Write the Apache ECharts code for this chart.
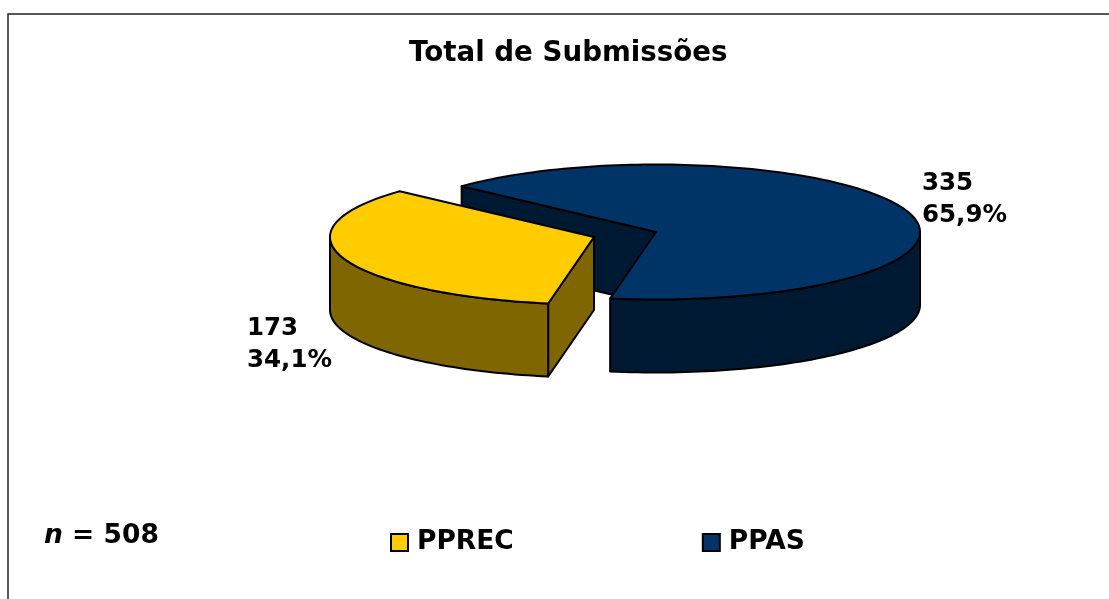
<!DOCTYPE html>
<html>
<head>
<meta charset="utf-8">
<style>html,body{margin:0;padding:0;background:#fff}#c{width:1109px;height:599px}</style>
<script src="https://cdn.jsdelivr.net/npm/echarts@6/dist/echarts.min.js"></script>
</head>
<body>
<div id="c"></div>
<script>
var titleText = 'Total de Submissões';
var categories = ['PPREC', 'PPAS'];
var counts = [173, 335];
var percentLabels = ['34,1%', '65,9%'];
var sampleSize = 508;

var FONT = '"DejaVu Sans", Verdana, sans-serif';
var total = counts[0] + counts[1];
var layout = {
  rx: 264, ry: 67.5, depth: 73, joinAngle: 100,
  PPREC: { cx: 594, cy: 237, top: '#FFCC00', side: '#806600', dir: 1, label: [247, 345] },
  PPAS: { cx: 656, cy: 232, top: '#003366', side: '#001933', dir: -1, label: [922, 200] }
};

function pt(s, deg, dy) {
  var a = deg * Math.PI / 180;
  return [s.cx + layout.rx * Math.cos(a), s.cy + layout.ry * Math.sin(a) + (dy || 0)];
}
function arc(s, from, to, dy) {
  var pts = [], n = Math.max(2, Math.ceil(Math.abs(to - from) / 1.5));
  for (var i = 0; i <= n; i++) pts.push(pt(s, from + (to - from) * i / n, dy));
  return pts;
}
function poly(points, fill) {
  return {
    type: 'polygon',
    shape: { points: points },
    style: { fill: fill, stroke: '#000', lineWidth: 2, lineJoin: 'round' }
  };
}
function sliceRenderer(name) {
  var s = layout[name];
  return function (params, api) {
    var value = api.value(0);
    var sweep = value / total * 360;
    var start = layout.joinAngle;
    var end = start + s.dir * sweep;
    var children = [];
    var c = [s.cx, s.cy], cd = [s.cx, s.cy + layout.depth];
    var cutAngle = s.dir > 0 ? start : end;
    var cutP = pt(s, cutAngle), cutD = pt(s, cutAngle, layout.depth);
    children.push(poly([c, cutP, cutD, cd], s.side));
    var rimEnd = s.dir > 0 ? 180 : 0;
    var rimTop = arc(s, start, rimEnd, 0);
    var rimBottom = arc(s, rimEnd, start, layout.depth);
    children.push(poly(rimTop.concat(rimBottom), s.side));
    children.push(poly([c].concat(arc(s, start, end, 0)), s.top));
    children.push({
      type: 'text',
      style: {
        text: value + '\n' + percentLabels[categories.indexOf(name)],
        x: s.label[0], y: s.label[1],
        font: 'bold 24.5px ' + FONT,
        lineHeight: 32, fill: '#000', align: 'left', verticalAlign: 'middle'
      }
    });
    return { type: 'group', children: children };
  };
}
function seriesFor(name) {
  var i = categories.indexOf(name);
  return {
    name: name,
    type: 'custom',
    coordinateSystem: 'none',
    silent: true,
    animation: false,
    itemStyle: { color: layout[name].top, borderColor: '#000', borderWidth: 2 },
    renderItem: sliceRenderer(name),
    data: [[counts[i]]]
  };
}

var chart = echarts.init(document.getElementById('c'), null, { renderer: 'canvas' });
chart.setOption({
  backgroundColor: '#fff',
  animation: false,
  title: {
    text: titleText,
    left: 409, top: 40, padding: 0,
    textStyle: { fontFamily: FONT, fontWeight: 'bold', fontSize: 27.7, color: '#000' }
  },
  legend: {
    data: categories,
    left: 390, top: 529, padding: 0,
    orient: 'horizontal',
    itemWidth: 17, itemHeight: 17, itemGap: 188,
    icon: 'rect', selectedMode: false,
    textStyle: { fontFamily: FONT, fontWeight: 'bold', fontSize: 26.5, color: '#000', padding: [0, 0, 0, 4] }
  },
  graphic: [
    {
      type: 'rect', silent: true,
      shape: { x: 8, y: 14, width: 1300, height: 800 },
      style: { fill: 'none', stroke: '#222', lineWidth: 1.5 }
    },
    {
      type: 'text', silent: true, left: 44, top: 523,
      style: {
        rich: {
          i: { font: 'italic bold 26.5px ' + FONT, fill: '#000' },
          b: { font: 'bold 26.5px ' + FONT, fill: '#000' }
        },
        text: '{i|n}{b| = ' + sampleSize + '}'
      }
    }
  ],
  series: [seriesFor('PPAS'), seriesFor('PPREC')]
});
</script>
</body>
</html>
